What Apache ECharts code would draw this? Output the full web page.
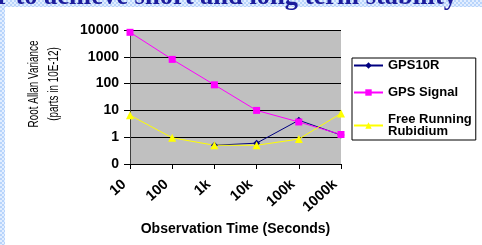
<!DOCTYPE html>
<html>
<head>
<meta charset="utf-8">
<script src="https://cdn.jsdelivr.net/npm/echarts@6/dist/echarts.min.js"></script>
<style>
  html, body { margin: 0; padding: 0; }
  #chart {
    width: 482px; height: 245px;
    background-color: #cfe3ff;
    background-image: repeating-conic-gradient(#b8d4fb 0% 25%, #e2eeff 0% 50%);
    background-size: 4px 4px;
  }
</style>
</head>
<body>
<div id="chart"></div>
<script>
  // observation times (seconds)
  const categories = ["10", "100", "1k", "10k", "100k", "1000k"];
  // root allan variance, parts in 10E-12
  const gps10r = [null, null, 0.5, 0.6, 4.3, 1.2];
  const gpsSignal = [8200, 800, 90, 10, 3.7, 1.26];
  const rubidium = [6.6, 0.95, 0.5, 0.5, 0.85, 7.7];
  const yTicks = [0.1, 1, 10, 100, 1000, 10000];

  const myChart = echarts.init(document.getElementById("chart"));
  const font = "Arial, 'Liberation Sans', sans-serif";

  const option = {
    backgroundColor: "transparent",
    animation: false,
    graphic: [
      {
        type: "rect",
        z: -10,
        shape: { x: 5, y: 7, width: 477, height: 238 },
        style: { fill: "#ffffff" },
      },
      {
        type: "text",
        left: -3,
        top: -16,
        style: {
          text: "r to achieve short and long term stability",
          fill: "#1c1c9c",
          font: "bold 26.5px 'Liberation Serif', 'DejaVu Serif', serif",
        },
      },
      {
        type: "text",
        x: 44,
        y: 84,
        rotation: Math.PI / 2,
        scaleX: 0.9,
        scaleY: 1.25,
        style: {
          text: "Root Allan Variance\n(parts in 10E-12)",
          fill: "#000",
          font: "11px " + font,
          align: "center",
          verticalAlign: "middle",
          lineHeight: 16,
        },
      },
    ],
    grid: { left: 130, right: 141, top: 30, bottom: 81, show: true, backgroundColor: "#c0c0c0", borderWidth: 0 },
    legend: {
      orient: "vertical",
      left: 352,
      top: 58,
      width: 121,
      padding: [1, 4, 2, 1],
      itemGap: 14,
      itemWidth: 29,
      itemHeight: 8,
      backgroundColor: "#ffffff",
      borderColor: "#000",
      borderWidth: 1,
      borderRadius: 0,
      textStyle: { fontFamily: font, fontWeight: "bold", fontSize: 13, color: "#000", lineHeight: 12 },
      data: ["GPS10R", "GPS Signal", "Free Running\nRubidium"],
    },
    xAxis: {
      type: "category",
      data: categories,
      boundaryGap: false,
      name: "Observation Time (Seconds)",
      nameLocation: "middle",
      nameGap: 56,
      nameTextStyle: { fontFamily: font, fontWeight: "bold", fontSize: 14, color: "#000" },
      axisLine: { lineStyle: { color: "#000" } },
      axisTick: { show: true, length: 5, lineStyle: { color: "#000" } },
      axisLabel: {
        rotate: 42,
        fontFamily: font,
        fontWeight: "bold",
        fontSize: 14.5,
        color: "#000",
        margin: 13,
        padding: [0, 8, 0, 0],
        interval: 0,
      },
    },
    yAxis: {
      type: "log",
      logBase: 10,
      min: yTicks[0],
      max: yTicks[yTicks.length - 1],
      axisLine: { show: true, lineStyle: { color: "#404040" } },
      axisTick: { show: true, length: 6, lineStyle: { color: "#000" } },
      splitLine: { lineStyle: { color: "#000", width: 1 } },
      axisLabel: {
        fontFamily: font,
        fontWeight: "bold",
        fontSize: 14,
        color: "#000",
        margin: 11,
        formatter: (v) => (v < 1 ? "0" : String(Math.round(v))),
      },
    },
    series: [
      {
        name: "GPS10R",
        type: "line",
        data: gps10r,
        symbol: "diamond",
        symbolSize: 7,
        color: "#000080",
        lineStyle: { width: 1 },
      },
      {
        name: "GPS Signal",
        type: "line",
        data: gpsSignal,
        symbol: "rect",
        symbolSize: 7,
        color: "#ff00ff",
        lineStyle: { width: 1 },
      },
      {
        name: "Free Running\nRubidium",
        type: "line",
        data: rubidium,
        symbol: "triangle",
        symbolSize: 8,
        color: "#ffff00",
        lineStyle: { width: 1 },
      },
    ],
  };

  option && myChart.setOption(option);
</script>
</body>
</html>
